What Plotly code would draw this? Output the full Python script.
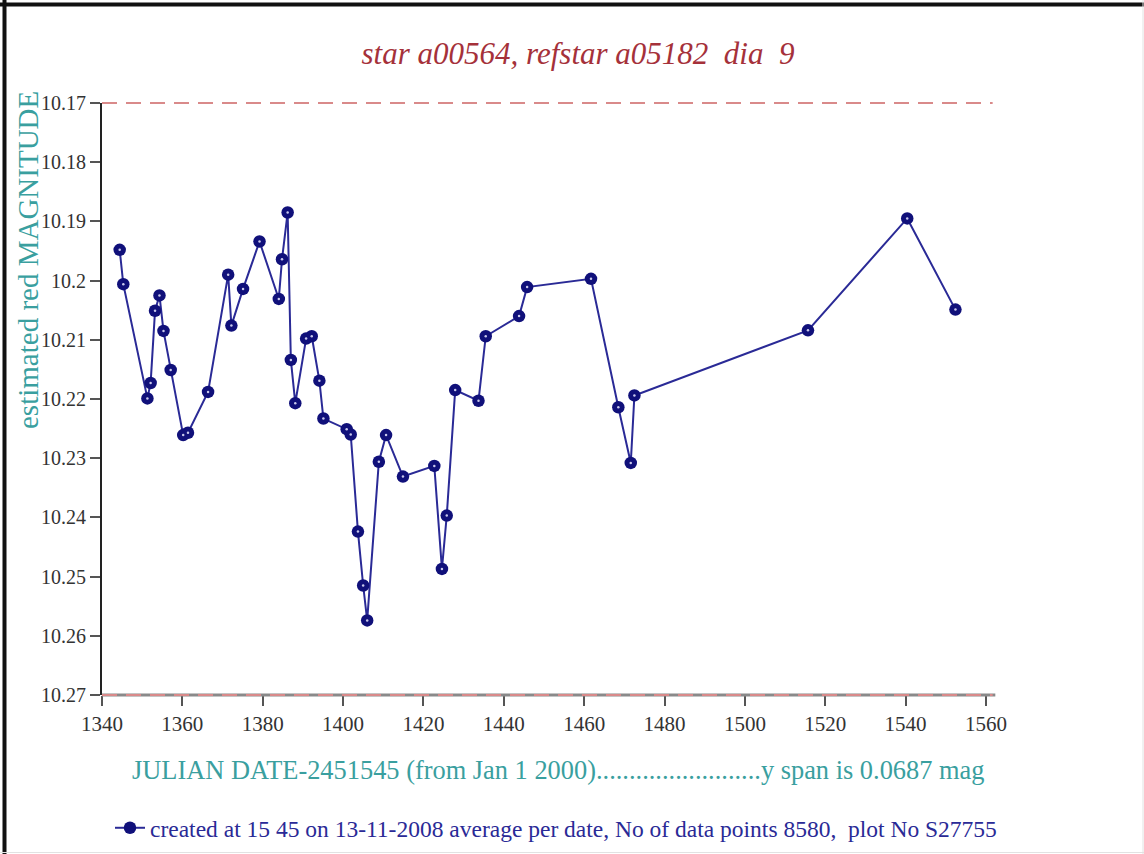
import plotly.graph_objects as go

# ---- data ----
jd = [1344.4, 1345.3, 1351.3, 1352.1, 1353.2, 1354.3, 1355.3, 1357.1, 1360.2, 1361.4,
      1366.4, 1371.4, 1372.2, 1375.1, 1379.2, 1384.0, 1384.8, 1386.2, 1387.0, 1388.1,
      1390.8, 1392.2, 1394.1, 1395.1, 1400.9, 1401.9, 1403.7, 1405.0, 1406.0, 1408.9,
      1410.7, 1414.9, 1422.7, 1424.6, 1425.8, 1427.9, 1433.7, 1435.5, 1443.8, 1445.8,
      1461.7, 1468.5, 1471.6, 1472.5, 1515.7, 1540.4, 1552.4]
mag = [10.1948, 10.2006, 10.2199, 10.2173, 10.2051, 10.2025, 10.2085, 10.2151, 10.2261, 10.2257,
       10.2188, 10.1990, 10.2076, 10.2014, 10.1934, 10.2031, 10.1964, 10.1885, 10.2134, 10.2207,
       10.2098, 10.2094, 10.2169, 10.2233, 10.2251, 10.2260, 10.2424, 10.2515, 10.2574, 10.2306,
       10.2261, 10.2331, 10.2313, 10.2487, 10.2397, 10.2185, 10.2203, 10.2094, 10.2060, 10.2011,
       10.1997, 10.2214, 10.2308, 10.2194, 10.2084, 10.1895, 10.2049]

x_ticks = [1340, 1360, 1380, 1400, 1420, 1440, 1460, 1480, 1500, 1520, 1540, 1560]
y_ticks = [10.17, 10.18, 10.19, 10.2, 10.21, 10.22, 10.23, 10.24, 10.25, 10.26, 10.27]
y_tick_text = ["10.17", "10.18", "10.19", "10.2", "10.21", "10.22", "10.23", "10.24", "10.25", "10.26", "10.27"]
ref_lines = [10.17, 10.27]

title_text = "star a00564, refstar a05182  dia  9"
ylabel = "estimated red MAGNITUDE"
xlabel = "JULIAN DATE-2451545 (from Jan 1 2000).........................y span is 0.0687 mag"
legend_text = "created at 15 45 on 13-11-2008 average per date, No of data points 8580,  plot No S27755"

W, H = 1144, 854
L, R, T, B = 102, 990, 103, 695
Y_TOP, Y_BOT = 10.17, 10.27
SERIF = "Liberation Serif, Times New Roman, serif"
TEAL = "#3a9f9f"
NAVY = "#10107a"

fig = go.Figure()
fig.add_trace(go.Scatter(
    x=jd, y=mag, mode="lines+markers", name=legend_text,
    line=dict(color="#2a2a96", width=2),
    marker=dict(color=NAVY, size=12.5, line=dict(width=0)),
))
fig.add_trace(go.Scatter(
    x=jd, y=mag, mode="markers", showlegend=False, hoverinfo="skip",
    marker=dict(color="#c8c8ec", size=2.5, line=dict(width=0)),
))

def px_x(p):
    return (p - L) / (R - L)

def px_y(p):
    return (B - p) / (B - T)

def val_y(v):
    return (Y_BOT - v) / (Y_BOT - Y_TOP)

shapes = []
# gray x-axis base line
shapes.append(dict(type="line", xref="paper", yref="paper", x0=0, x1=1.006, y0=0, y1=0,
                   line=dict(color="#8a8a8a", width=3), layer="above"))
for v in ref_lines:
    shapes.append(dict(type="line", xref="paper", yref="paper", x0=0, x1=1.003,
                       y0=val_y(v), y1=val_y(v),
                       line=dict(color="#d98a8a", width=2, dash="15px,9px"), layer="above"))
# page frame
shapes.append(dict(type="line", xref="paper", yref="paper", x0=px_x(0), x1=px_x(W),
                   y0=px_y(4.5), y1=px_y(4.5), line=dict(color="#111", width=4)))
shapes.append(dict(type="line", xref="paper", yref="paper", x0=px_x(4.5), x1=px_x(4.5),
                   y0=px_y(0), y1=px_y(H), line=dict(color="#111", width=4)))
shapes.append(dict(type="line", xref="paper", yref="paper", x0=px_x(1143), x1=px_x(1143),
                   y0=px_y(0), y1=px_y(H), line=dict(color="#e2e2e2", width=1)))
shapes.append(dict(type="line", xref="paper", yref="paper", x0=px_x(0), x1=px_x(W),
                   y0=px_y(852.5), y1=px_y(852.5), line=dict(color="#e2e2e2", width=1)))

fig.update_layout(
    width=W, height=H,
    margin=dict(l=L, r=W - R, t=T, b=H - B, autoexpand=False),
    paper_bgcolor="white", plot_bgcolor="white",
    showlegend=True,
    title=dict(text=title_text, x=578 / W, xanchor="center", y=1 - 53 / H, yanchor="middle",
               font=dict(family=SERIF, size=31, color="#a5313a", style="italic")),
    xaxis=dict(range=[1340, 1561], tickvals=x_ticks, ticks="outside", ticklen=10,
               tickcolor="#555", tickwidth=1.5, showline=False,
               showgrid=False, zeroline=False, automargin=False,
               tickfont=dict(family=SERIF, size=21, color="#333")),
    yaxis=dict(range=[Y_BOT, Y_TOP], tickvals=y_ticks, ticktext=y_tick_text, ticks="outside",
               ticklen=10, tickcolor="#555", tickwidth=1.5, showline=True, linecolor="#222",
               linewidth=2, showgrid=False, zeroline=False, automargin=False,
               tickfont=dict(family=SERIF, size=20, color="#333")),
    shapes=shapes,
    annotations=[
        dict(text=ylabel, xref="paper", yref="paper", x=px_x(28), y=px_y(260),
             textangle=-90, showarrow=False, xanchor="center", yanchor="middle",
             font=dict(family=SERIF, size=29, color=TEAL)),
        dict(text=xlabel, xref="paper", yref="paper", x=px_x(558), y=px_y(770),
             showarrow=False, xanchor="center", yanchor="middle",
             font=dict(family=SERIF, size=26.4, color=TEAL)),
    ],
    legend=dict(x=px_x(110), y=px_y(828), xanchor="left", yanchor="middle",
                orientation="h", bgcolor="rgba(0,0,0,0)",
                font=dict(family=SERIF, size=23.5, color="#2a2a96")),
)

fig.write_html("out.html", config={"displayModeBar": False},
               post_script="document.body.style.margin='0';")
